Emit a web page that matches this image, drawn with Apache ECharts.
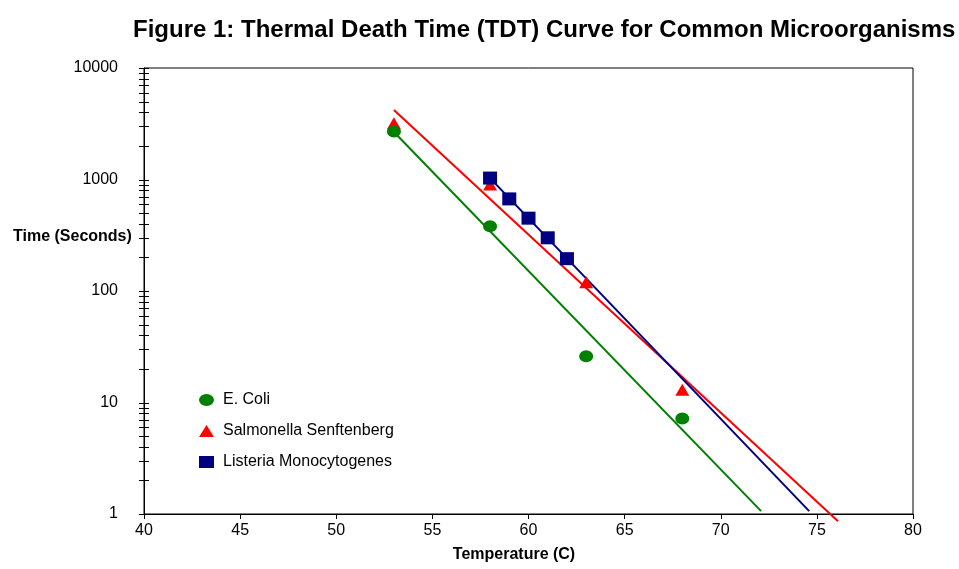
<!DOCTYPE html>
<html>
<head>
<meta charset="utf-8">
<script src="https://cdn.jsdelivr.net/npm/echarts@6/dist/echarts.min.js"></script>
<style>html,body{margin:0;padding:0;background:#fff;}#c{width:959px;height:569px;}</style>
</head>
<body>
<div id="c"></div>
<script>
// Observations
const ecoliTemp = [53, 58, 63, 68];
const ecoliTime = [2700, 380, 26, 7.2];
const salmTemp = [53, 58, 63, 68];
const salmTime = [3200, 900, 120, 13];
const listTemp = [58, 59, 60, 61, 62];
const listTime = [1030, 670, 450, 300, 195];
// Trendline end points
const ecoliTrendTemp = [53, 72.1];
const ecoliTrendTime = [2670, 1.06];
const salmTrendTemp = [53, 76.1];
const salmTrendTime = [4200, 0.86];
const listTrendTemp = [58, 74.6];
const listTrendTime = [1030, 1.06];
// Axes
const xMin = 40, xMax = 80, xStep = 5;
const yMin = 1, yMax = 10000;
const yMajor = [1, 10, 100, 1000, 10000];
const yMinor = [];
for (let d = 1; d < yMax; d *= 10) for (let m = 2; m <= 9; m++) yMinor.push(d * m);
const yTitle = 'Time (Seconds)';
const xTitle = 'Temperature (C)';

const FONT = '"Liberation Sans", Arial, sans-serif';
const pairs = (xs, ys) => xs.map((x, i) => [x, ys[i]]);
const ellipse = 'path://M0,50 A50,50 0 1,1 100,50 A50,50 0 1,1 0,50 Z';
const ellipseIcon = 'path://M0,55 A70,55 0 1,1 140,55 A70,55 0 1,1 0,55 Z';

const chart = echarts.init(document.getElementById('c'), null, {renderer: 'canvas'});
chart.setOption({
  animation: false,
  backgroundColor: '#fff',
  textStyle: {fontFamily: FONT},
  title: {
    text: 'Figure 1: Thermal Death Time (TDT) Curve for Common Microorganisms',
    left: 128, top: 13,
    textStyle: {fontSize: 24, fontWeight: 'bold', color: '#000', fontFamily: FONT}
  },
  graphic: [{
    type: 'text', left: 13, top: 229, silent: true,
    style: {text: yTitle, font: 'bold 16px ' + FONT, fill: '#000'}
  }],
  grid: {left: 144, right: 46, top: 68, bottom: 55, show: true, borderColor: '#000', borderWidth: 1, containLabel: false, outerBoundsMode: 'none'},
  legend: {
    orient: 'vertical', left: 194, top: 387, selectedMode: false,
    itemWidth: 15, itemHeight: 12, itemGap: 15,
    textStyle: {fontSize: 16, color: '#000', fontFamily: FONT, lineHeight: 16, padding: [0, 0, 0, 4]},
    data: [
      {name: 'E. Coli', icon: ellipseIcon},
      {name: 'Salmonella Senftenberg', icon: 'triangle'},
      {name: 'Listeria Monocytogenes', icon: 'rect'}
    ]
  },
  xAxis: {
    type: 'value', min: xMin, max: xMax, interval: xStep,
    name: xTitle, nameLocation: 'middle', nameGap: 33,
    nameTextStyle: {fontSize: 16, fontWeight: 'bold', color: '#000', fontFamily: FONT, padding: [0, 29, 0, 0]},
    axisLine: {onZero: false, lineStyle: {color: '#000', width: 1}},
    axisTick: {show: true, length: 5, lineStyle: {color: '#000'}},
    axisLabel: {fontSize: 16, color: '#000', margin: 9, fontFamily: FONT},
    splitLine: {show: false}
  },
  yAxis: {
    type: 'log', logBase: 10, min: yMin, max: yMax,
    axisLine: {show: true, lineStyle: {color: '#000', width: 1}},
    axisTick: {show: false},
    axisLabel: {fontSize: 16, color: '#000', margin: 26, fontFamily: FONT,
      formatter: v => String(Math.round(v))},
    splitLine: {show: false}
  },
  series: [
    {
      name: 'E. Coli', type: 'scatter', z: 4,
      symbol: ellipse, symbolSize: [14, 12], symbolKeepAspect: false,
      itemStyle: {color: '#008000', opacity: 1},
      data: pairs(ecoliTemp, ecoliTime)
    },
    {
      name: 'Salmonella Senftenberg', type: 'scatter', z: 3,
      symbol: 'triangle', symbolSize: [14, 12],
      itemStyle: {color: '#FF0000', opacity: 1},
      data: pairs(salmTemp, salmTime)
    },
    {
      name: 'Listeria Monocytogenes', type: 'scatter', z: 5,
      symbol: 'rect', symbolSize: [14, 13],
      itemStyle: {color: '#000080', opacity: 1},
      data: pairs(listTemp, listTime)
    },
    {
      name: 'ecoliTrend', type: 'line', z: 2, showSymbol: false, symbol: 'none', clip: false, silent: true,
      lineStyle: {color: '#008000', width: 2},
      data: pairs(ecoliTrendTemp, ecoliTrendTime)
    },
    {
      name: 'salmTrend', type: 'line', z: 2, showSymbol: false, symbol: 'none', clip: false, silent: true,
      lineStyle: {color: '#FF0000', width: 2},
      data: pairs(salmTrendTemp, salmTrendTime)
    },
    {
      name: 'listTrend', type: 'line', z: 2, showSymbol: false, symbol: 'none', clip: false, silent: true,
      lineStyle: {color: '#000080', width: 2},
      data: pairs(listTrendTemp, listTrendTime)
    },
    {
      name: 'yTicks', type: 'custom', z: 6, silent: true, clip: false,
      data: yMajor.concat(yMinor).map(v => [xMin, v]),
      renderItem: function (params, api) {
        const p = api.coord([api.value(0), api.value(1)]);
        const y = Math.round(p[1]) + 0.5;
        return {type: 'line', shape: {x1: p[0] - 5, y1: y, x2: p[0] + 5, y2: y},
                style: {stroke: '#000', lineWidth: 1}};
      }
    }
  ]
});
</script>
</body>
</html>
